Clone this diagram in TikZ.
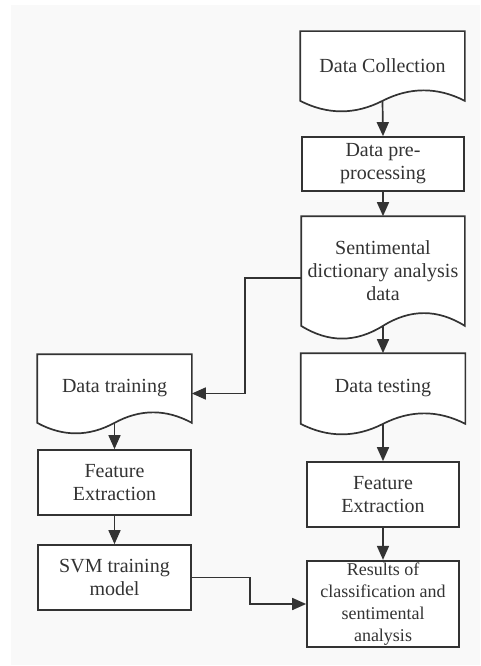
\documentclass[tikz,border=0pt]{standalone}
\usepackage{fontspec}
\setmainfont{Liberation Serif}
\usetikzlibrary{arrows.meta,calc,backgrounds}
\definecolor{linegray}{HTML}{333333}
\definecolor{paper}{HTML}{F9F9F9}

\begin{document}
\begin{tikzpicture}[x=1pt, y=-1pt,
    box/.style={draw=linegray, line width=1.7pt, fill=white, align=center,
      inner sep=2pt, text=linegray, font=\fontsize{20}{23}\selectfont},
    doc/.style={box, draw=none, fill=none},
    arr/.style={draw=linegray, line width=1.7pt, -{Triangle[length=14pt,width=12pt]}}]
    \useasboundingbox (0,0) rectangle (480,666);

    % COLUMNA DRETA
    \node[doc, minimum width=163pt, minimum height=68pt] (coll) at (382.5,66) {Data Collection};
    \node[box, minimum width=162pt, minimum height=54pt] (pre) at (383,164) {Data pre-\\processing};
    \node[doc, minimum width=162pt, minimum height=108pt] (sent) at (383,271) {Sentimental\\dictionary analysis\\data};
    \node[doc, minimum width=163pt, minimum height=69pt] (test) at (383,388.5) {Data testing};
    \node[box, minimum width=152pt, minimum height=65pt] (featR) at (383,494.5) {Feature\\Extraction};
    \node[box, minimum width=152pt, minimum height=84pt, font=\fontsize{18}{22}\selectfont] (res) at (383,604)
        {Results of\\classification and\\sentimental\\analysis};

    % COLUMNA ESQUERRA
    \node[doc, minimum width=153pt, minimum height=67pt] (train) at (114.5,388.5) {Data training};
    \node[box, minimum width=153pt, minimum height=65pt] (featL) at (114.5,482.5) {Feature\\Extraction};
    \node[box, minimum width=153pt, minimum height=65pt] (svm) at (114.5,577.5) {SVM training\\model};

    % fons i documents (ona a la base)
    \begin{pgfonlayer}{background}
        \fill[paper] (11,5) rectangle (480,665);
        \foreach \n/\a in {coll/14, sent/17, test/14, train/14} {
            \draw[linegray, line width=1.7pt, fill=white]
                (\n.north west) -- (\n.north east) -- (\n.south east)
                .. controls ($(\n.south east)!0.1667!(\n.south west)+(0,-\a)$)
                        and ($(\n.south east)!0.3333!(\n.south west)+(0,-\a)$) .. (\n.south)
                .. controls ($(\n.south east)!0.6667!(\n.south west)+(0,\a)$)
                        and ($(\n.south east)!0.8333!(\n.south west)+(0,\a)$) .. (\n.south west)
                -- cycle;
        }
    \end{pgfonlayer}

    % FLETXES
    \draw[arr] (coll.south) -- (pre.north);
    \draw[arr] (pre.south) -- (sent.north);
    \draw[arr] (sent.south) -- (test.north);
    \draw[arr] (test.south) -- (featR.north);
    \draw[arr] (featR.south) -- (res.north);
    \draw[arr] ([yshift=-7pt]sent.west) -- ++(-56,0) |- ([yshift=-5pt]train.east);
    \draw[arr] (train.south) -- (featL.north);
    \draw[arr] (featL.south) -- (svm.north);
    \draw[arr] (svm.east) -- ++(58,0) |- (res.west);
\end{tikzpicture}
\end{document}
